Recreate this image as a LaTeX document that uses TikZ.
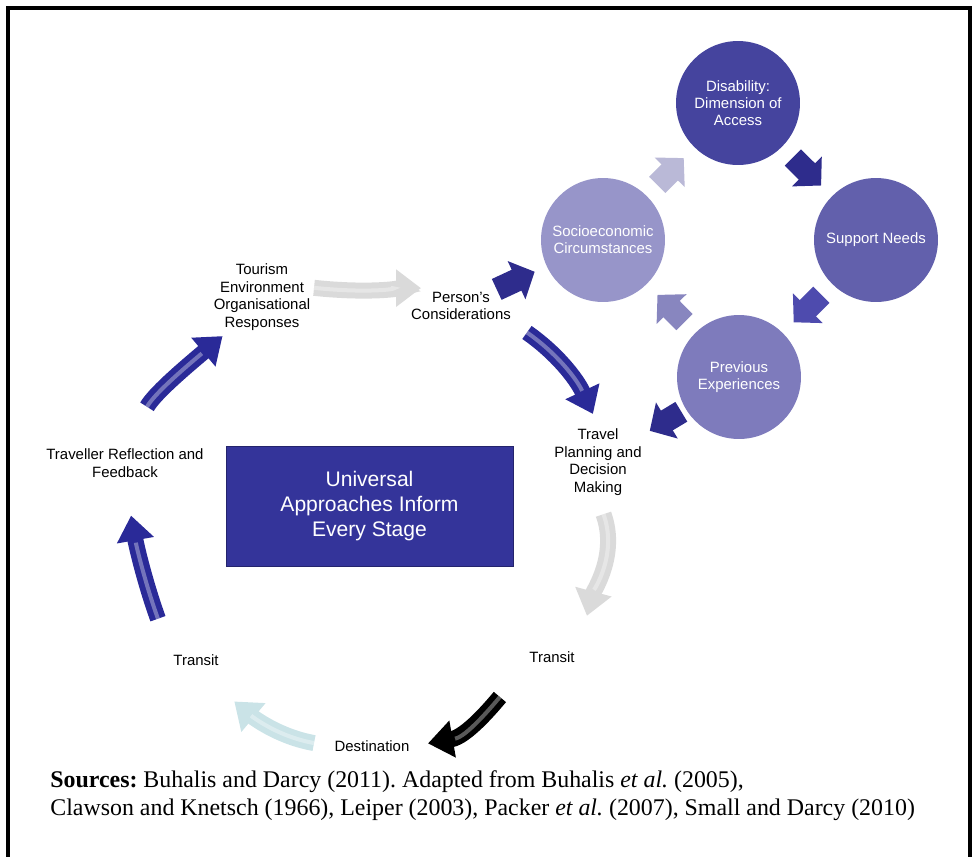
\documentclass[tikz,border=0pt]{standalone}
\usepackage{fontspec}
\setmainfont{Liberation Serif}
\setsansfont{Liberation Sans}
\usetikzlibrary{arrows.meta,positioning,calc}
\frenchspacing

\definecolor{disc}{HTML}{45449E}
\definecolor{supc}{HTML}{6260AC}
\definecolor{prevc}{HTML}{7E7BBC}
\definecolor{socc}{HTML}{9795C9}
\definecolor{boxc}{HTML}{34349A}
\definecolor{navy}{HTML}{2A2A98}
\definecolor{chevdark}{HTML}{2E2C8C}
\definecolor{chevmid}{HTML}{4E4BAE}
\definecolor{chevsoft}{HTML}{8886BF}
\definecolor{chevpale}{HTML}{BAB9D7}
\definecolor{greyarr}{HTML}{DADADA}
\definecolor{icearr}{HTML}{CAE3E7}

\tikzset{
  lbl/.style={font=\sffamily\fontsize{8.5}{10}\selectfont,align=center,inner sep=2pt},
  stage/.style={circle,fill=#1,minimum size=2.48cm,inner sep=0pt,text=white,align=center,font=\sffamily\fontsize{8.5}{9.7}\selectfont},
  chev/.style={draw=#1,line width=0.46cm,-{Triangle[length=0.4cm,width=0.82cm]}},
  bigarr/.style={draw=#1,line width=0.32cm,-{Triangle[length=0.5cm,width=0.72cm]}},
  hl/.style={postaction={draw=white,draw opacity=0.35,line width=0.08cm,-,shorten >=#1}}
}

\begin{document}
\begin{tikzpicture}[x=0.02cm,y=0.02cm]
    \useasboundingbox (0,0) rectangle (974,-856);
    \draw[line width=0.07cm] (8,-860) -- (8,-8) -- (970,-8) -- (970,-860);

    % access cycle
    \node[stage=disc](dis) at (738,-103){Disability:\\Dimension of\\Access};
    \node[stage=supc](sup) at (876,-240){Support Needs};
    \node[stage=prevc](prev) at (739,-377){Previous\\Experiences};
    \node[stage=socc](soc) at (603,-240){Socioeconomic\\Circumstances};

    % journey stages
    \node[lbl](tour) at (262,-297){Tourism\\Environment\\Organisational\\Responses};
    \node[lbl](pers) at (461,-306){Person's\\Considerations};
    \node[lbl](plan) at (598,-462){Travel\\Planning and\\Decision\\Making};
    \node[lbl](transR) at (552,-657){Transit};
    \node[lbl](dest) at (372,-746){Destination};
    \node[lbl](transL) at (196,-660){Transit};
    \node[lbl](refl) at (125,-463){Traveller Reflection and\\Feedback};
    \node[draw=boxc!70!black,fill=boxc,minimum width=5.74cm,minimum height=2.4cm,text=white,align=center,
          font=\sffamily\fontsize{12}{14.2}\selectfont](ubox) at (369.5,-506){Universal\\Approaches Inform\\Every Stage};

    \draw[chev=chevpale,shorten <=0.3cm,shorten >=0.3cm](soc)--(dis);
    \draw[chev=chevdark,shorten <=0.3cm,shorten >=0.3cm](dis)--(sup);
    \draw[chev=chevmid,shorten <=0.3cm,shorten >=0.3cm](sup)--(prev);
    \draw[chev=chevsoft,shorten <=0.3cm,shorten >=0.3cm](prev)--(soc);
    \draw[chev=chevdark,shorten <=0.1cm,shorten >=0.1cm](prev)--(plan);
    \draw[chev=chevdark,shorten <=-0.06cm,shorten >=0.26cm](pers)--(soc);

    \draw[bigarr=greyarr,hl=1.4cm,shorten >=0.8cm](tour.10) to[out=-6,in=180] (pers.north);
    \draw[bigarr=navy,hl=0.75cm,shorten <=0.3cm,shorten >=0.24cm](pers.south east) to[out=-35,in=115] (plan.north);
    \draw[bigarr=greyarr,hl=1.2cm,shorten <=0.32cm,shorten >=0.66cm](plan.south) to[out=-70,in=75] (transR.north east);
    \draw[bigarr=black,hl=0.85cm,shorten <=0.8cm,shorten >=0.3cm](transR.south west) to[out=-130,in=10] (dest.east);
    \draw[bigarr=icearr,hl=1.5cm,shorten <=0.34cm,shorten >=1cm](dest.west) to[out=170,in=-40] (transL.south);
    \draw[bigarr=navy,hl=1.25cm,shorten <=0.68cm,shorten >=0.7cm](transL.north west) to[out=110,in=-80] (refl.south);
    \draw[bigarr=navy,hl=0.6cm,shorten <=0.88cm,shorten >=0.06cm](refl.north) to[out=60,in=-140] (tour.-135);

    \node[anchor=north west,align=left,inner sep=0pt,font=\fontsize{13.6}{16}\selectfont](src) at (50,-770){%
      \textbf{Sources:} Buhalis and Darcy (2011). Adapted from Buhalis \textit{et al.} (2005),\\
      Clawson and Knetsch (1966), Leiper (2003), Packer \textit{et al.} (2007), Small and Darcy (2010)};
\end{tikzpicture}
\end{document}
